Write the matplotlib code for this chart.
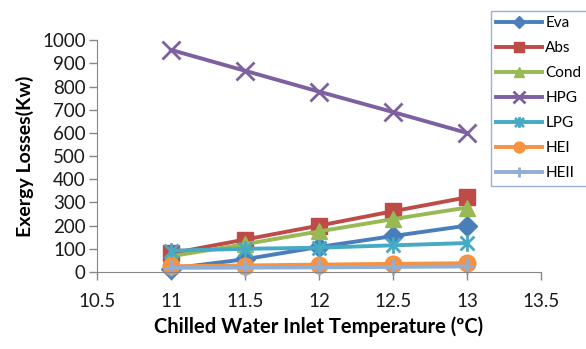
import numpy as np
import matplotlib
matplotlib.use('Agg')
import matplotlib.pyplot as plt
from matplotlib.path import Path

plt.rcParams['font.family'] = ['Lato', 'DejaVu Sans']

# Data
temps = [11, 11.5, 12, 12.5, 13]
eva = [15, 55, 108, 155, 200]
abs_ = [80, 140, 200, 262, 322]
cond = [68, 120, 175, 228, 278]
hpg = [958, 868, 778, 690, 600]
lpg = [92, 100, 105, 115, 125]
hei = [25, 28, 32, 35, 38]
heii = [18, 19, 20, 22, 24]

labels = ['Eva', 'Abs', 'Cond', 'HPG', 'LPG', 'HEI', 'HEII']
colors = ['#4A7EBB', '#BE4B48', '#98B954', '#7D60A0', '#46AAC5', '#F69240', '#91AED5']

# Excel-style star marker: x with a vertical bar
star = Path([(-1, -1), (1, 1), (-1, 1), (1, -1), (0, -1.2), (0, 1.2)],
            [Path.MOVETO, Path.LINETO, Path.MOVETO, Path.LINETO, Path.MOVETO, Path.LINETO])

series = [eva, abs_, cond, hpg, lpg, hei, heii]
markers = ['D', 's', '^', 'x', star, 'o', '+']
msizes = [10, 11, 11, 13, 12, 12, 12]

fig = plt.figure(figsize=(5.86, 3.49), dpi=100)
ax = fig.add_axes([0.1655, 0.2206, 0.7575, 0.6644])

for ys, lab, c, m, ms in zip(series, labels, colors, markers, msizes):
    ax.plot(temps, ys, color=c, lw=2.8, marker=m, markersize=ms,
            markeredgewidth=2 if m in ('x', '+') or m is star else 1,
            markerfacecolor=c, markeredgecolor=c, label=lab, clip_on=False)

ax.set_xlim(10.5, 13.5)
ax.set_ylim(0, 1000)
ax.set_xticks(np.arange(10.5, 13.51, 0.5))
ax.set_xticklabels(['10.5', '11', '11.5', '12', '12.5', '13', '13.5'])
ax.set_yticks(np.arange(0, 1001, 100))
for s in ['top', 'right']:
    ax.spines[s].set_visible(False)
for s in ['left', 'bottom']:
    ax.spines[s].set_color('#868686')
ax.tick_params(colors='#868686', labelcolor='#1a1a1a', labelsize=13.5, length=6, width=1)
ax.tick_params(axis='x', pad=9)
ax.tick_params(axis='y', pad=2)

ax.set_xlabel('Chilled Water Inlet Temperature (ºC)', fontsize=14.5, fontweight='bold', labelpad=5)
ax.set_ylabel('Exergy Losses(Kw)', fontsize=14, fontweight='bold', labelpad=6)

leg = fig.legend(loc='upper left', bbox_to_anchor=(488 / 586, 1 - 8 / 349),
                 fontsize=11, handlelength=3.0, handletextpad=0.2,
                 labelspacing=0.72, borderpad=0.35, borderaxespad=0.2,
                 fancybox=False, markerscale=0.65)
leg.get_frame().set_edgecolor('#7F9FCB')
leg.get_frame().set_linewidth(1)

fig.savefig('out.png', dpi=100)
